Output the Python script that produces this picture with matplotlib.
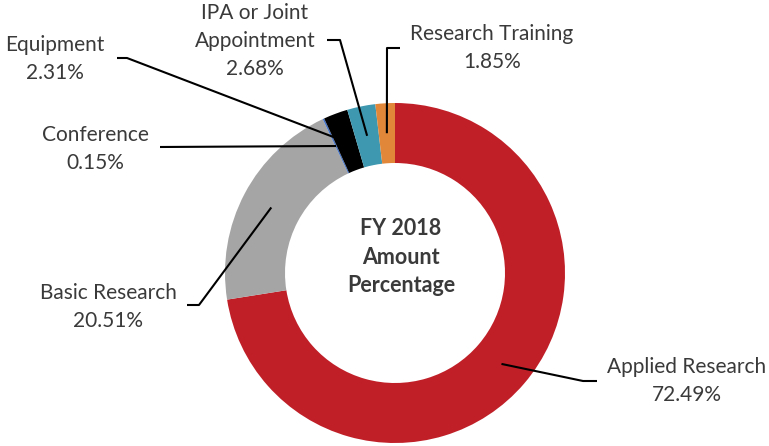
"""
FY 2018 amount percentage donut chart
"""

import numpy as np
import matplotlib.pyplot as plt

#---------------------------------------------------------------------------------------------------
# Input Parameters
#---------------------------------------------------------------------------------------------------

categories = ['Applied Research', 'Basic Research', 'Conference', 'Equipment',
              'IPA or Joint\nAppointment', 'Research Training']
values = [72.49, 20.51, 0.15, 2.31, 2.68, 1.85]
colors = ['#C01F28', '#A5A5A5', '#4472C4', '#000000', '#3E98B0', '#E1873A']

# label block centres and leader elbows, in pixels from the top-left corner
label_pos = [(687, 381), (108, 307), (95, 149), (55, 59), (255, 41), (492, 48)]
leader_pts = [[(597, 381), (583, 381)],
              [(187, 305), (199, 305)],
              [(160, 147)],
              [(117, 58), (127, 58)],
              [(327, 40), (340, 40)],
              [(400, 48), (387, 48)]]

W, H = 769, 446
cx, cy, r_out, r_in = 395, 273, 170, 110
text_col = '#3A3A3A'
fsize = 15

plt.rcParams['font.family'] = ['Lato', 'DejaVu Sans']

#---------------------------------------------------------------------------------------------------
# Main Program
#---------------------------------------------------------------------------------------------------

fig = plt.figure(figsize=(W/100, H/100), dpi=100)
ax = fig.add_axes([0, 0, 1, 1])

ax.pie(values, colors=colors, startangle=90, counterclock=False, radius=r_out,
       center=(cx, H - cy), wedgeprops=dict(width=r_out - r_in, edgecolor='none'))
ax.set_xlim(0, W)
ax.set_ylim(0, H)
ax.set_aspect('auto')
ax.axis('off')

# leader lines end at the ring middle, at the middle angle of each wedge
cum = np.cumsum(values) - np.array(values) / 2
r_mid = (r_out + r_in) / 2
for i, cat in enumerate(categories):
    ang = np.deg2rad(90 - 360 * cum[i] / sum(values))
    ax_x = cx + r_mid * np.cos(ang)
    ax_y = H - cy + r_mid * np.sin(ang)
    xs = [p[0] for p in leader_pts[i]] + [ax_x]
    ys = [H - p[1] for p in leader_pts[i]] + [ax_y]
    ax.plot(xs, ys, color='black', lw=1.5, solid_capstyle='butt')
    lx, ly = label_pos[i]
    ax.text(lx, H - ly, f"{cat}\n{values[i]:.2f}%", ha='center', va='center',
            fontsize=fsize, color=text_col, linespacing=1.52)

ax.text(401, H - 257, 'FY 2018\nAmount\nPercentage', ha='center', va='center',
        fontsize=15.5, fontweight='bold', color=text_col, linespacing=1.45)

plt.savefig('out.png', dpi=100)
